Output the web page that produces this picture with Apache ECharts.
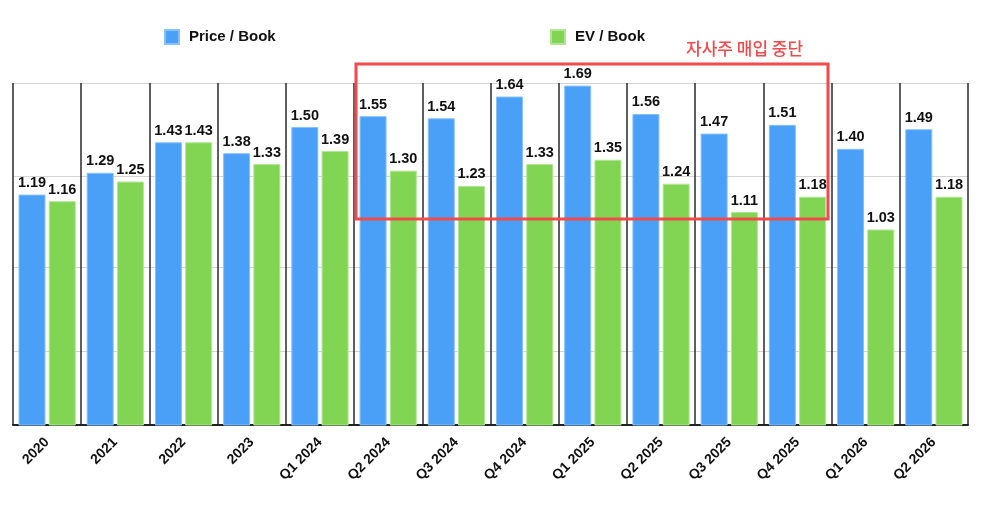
<!DOCTYPE html>
<html>
<head>
<meta charset="utf-8">
<script src="https://cdn.jsdelivr.net/npm/echarts@6/dist/echarts.min.js"></script>
<style>
  html, body { margin: 0; padding: 0; background: #fff; }
  #main { width: 1000px; height: 513px; }
</style>
</head>
<body>
<div id="main"></div>
<script>
// 분기/연도 라벨
const categories = ['2020', '2021', '2022', '2023', 'Q1 2024', 'Q2 2024', 'Q3 2024', 'Q4 2024',
  'Q1 2025', 'Q2 2025', 'Q3 2025', 'Q4 2025', 'Q1 2026', 'Q2 2026'];
const priceBook = [1.19, 1.29, 1.43, 1.38, 1.50, 1.55, 1.54, 1.64, 1.69, 1.56, 1.47, 1.51, 1.40, 1.49];
const evBook = [1.16, 1.25, 1.43, 1.33, 1.39, 1.30, 1.23, 1.33, 1.35, 1.24, 1.11, 1.18, 1.03, 1.18];
// 가로 눈금선 위치 (원본 그림의 축 값)
const gridValues = [0.471, 0.856, 1.275, 1.702];
const yMin = 0.133;
const yMax = 1.702;
const noteText = '자사주 매입 중단';

const FONT = '"Liberation Sans", Arial, sans-serif';
let chart = echarts.init(document.getElementById('main'));

let labelStyle = {
  show: true,
  position: 'top',
  distance: 4,
  color: '#111',
  fontFamily: FONT,
  fontWeight: 'bold',
  fontSize: 14.5,
  formatter: (p) => p.value.toFixed(2)
};

let legendText = { fontFamily: FONT, fontWeight: 'bold', fontSize: 15, color: '#111', padding: [0, 0, 0, 5] };

let option = {
  animation: false,
  backgroundColor: '#fff',
  legend: [{
      left: 159,
      top: 24,
      icon: 'rect',
      itemWidth: 14,
      itemHeight: 14,
      data: ['Price / Book'],
      textStyle: legendText
    },
    {
      left: 545,
      top: 24,
      icon: 'rect',
      itemWidth: 14,
      itemHeight: 14,
      data: ['EV / Book'],
      textStyle: legendText
    }
  ],
  grid: { left: 13, right: 32, top: 83, bottom: 88, containLabel: false },
  xAxis: {
    type: 'category',
    data: categories,
    axisLine: { show: true, lineStyle: { color: '#222', width: 2 } },
    axisTick: { show: false },
    splitLine: { show: true, lineStyle: { color: '#2a2a2a', width: 1.5 } },
    axisLabel: {
      interval: 0,
      rotate: 45,
      margin: 15,
      color: '#111',
      fontFamily: FONT,
      fontWeight: 'bold',
      fontSize: 14
    }
  },
  yAxis: {
    type: 'value',
    min: yMin,
    max: yMax,
    axisLine: { show: false },
    axisTick: { show: false, customValues: gridValues },
    axisLabel: { show: false },
    splitLine: { show: true, lineStyle: { color: '#d4d4d4', width: 1 } }
  },
  series: [{
      name: 'Price / Book',
      type: 'bar',
      data: priceBook,
      barWidth: 27,
      barGap: '12%',
      itemStyle: { color: '#4a9ff6', borderColor: '#86c1fa', borderWidth: 1 },
      label: labelStyle
    },
    {
      name: 'EV / Book',
      type: 'bar',
      data: evBook,
      barWidth: 27,
      itemStyle: { color: '#82d453', borderColor: '#b0e794', borderWidth: 1 },
      label: labelStyle
    }
  ],
  graphic: [{
      type: 'rect',
      shape: { x: 356, y: 64, width: 472, height: 155 },
      style: { fill: 'none', stroke: '#f24a4a', lineWidth: 3 },
      z: 100
    },
    {
      type: 'text',
      left: 686,
      top: 40,
      style: {
        text: noteText,
        fill: '#f24a4a',
        fontFamily: '"Noto Sans CJK KR", sans-serif',
        fontSize: 17,
        fontWeight: 500
      },
      z: 100
    }
  ]
};

chart.setOption(option);
</script>
</body>
</html>
